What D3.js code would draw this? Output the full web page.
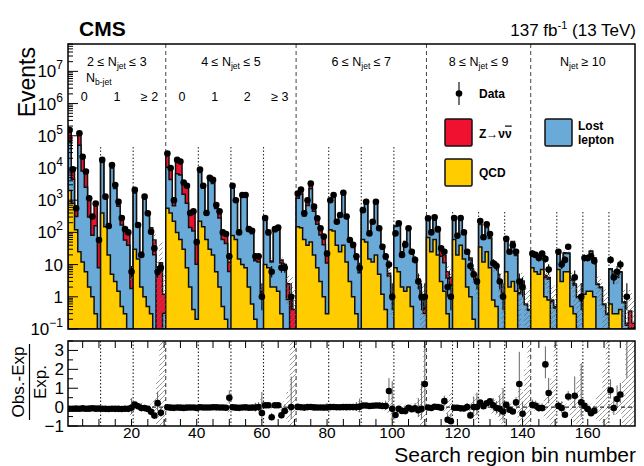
<!DOCTYPE html>
<html><head><meta charset="utf-8">
<script src="https://cdn.jsdelivr.net/npm/d3@7"></script>
<style>body{margin:0;background:#fff}svg{font-family:"Liberation Sans",Arial,sans-serif}</style>
</head><body><svg id="c" width="644" height="466"></svg>
<script>
// ---------------- DATA ----------------
const qcd = [
2000,800,120,25,12,6,2,1,0.3,0.05,
400,150,20,5,3,1.5,0.5,0.3,0.1,0.02,
30,15,2,1,0.5,0.3,0.05,0.01,0.01,0.01,
560,400,220,100,60,30,8,2,0.4,0.2,
220,150,60,30,20,6,2,0.5,0.2,0.05,
80,60,15,10,8,2,0.6,0.2,0.1,0.02,
10,8,2,2,1.5,0.3,0.1,0.02,0.01,0.005,
150,140,60,40,50,20,8,3,1,0.3,
120,110,40,25,40,12,3,1,0.3,0.1,
60,50,15,12,20,5,1.2,0.4,0.1,0.02,
8,6,2,1.5,2,0.5,0.1,0.03,0.01,0.005,
70,25,60,20,3,1.5,0.3,0.1,
60,20,40,15,2,1,0.2,0.1,
35,12,25,8,0.8,0.5,0.1,0.05,
6,2,3,1.5,0.1,0.1,0.02,0.01,
8,6,5,7,1,0.8,0.1,0.05,
7,3,6,6,0.5,0.3,0.1,0.05,
1.2,1.5,1.5,1,0.1,0.1,0.02,0.01,
0.6,0.3,0.3,0.4,0.05,0.01,0.01,0.01];
const lostLepton = [
63000,3700,190,51000,8000,2500,300,80,160,8,
15000,1000,120,10000,2300,650,170,58,40,1.8,
1650,130,16,1150,350,100,20,0.05,0.08,0.3,
10000,4000,450,6500,6000,1500,800,140,110,10,
7000,2200,300,4000,3300,550,280,60,45,6,
2550,880,80,1300,1280,110,90,13,12,0.9,
235,78,10,105,118,11,7,0.8,0.05,0.05,
1000,1400,260,650,2200,430,170,80,40,11,
800,1200,160,300,1500,270,48,33,14,5.5,
370,730,68,180,760,112,30,14.5,4.3,0.8,
145,195,21,47,130,25,13,3,0.8,0.3,
170,65,180,85,15,10,3.5,2.2,
220,58,245,88,20,13,4,2.5,
140,54,118,57,8.5,8.5,3,1.15,
48,26,47,17.5,1.15,2.8,0.55,0.37,
10,11,10,14,3,2.8,0.6,0.4,
15,7,16,16,2.8,2,0.85,0.7,
13,15.5,24,14.5,2.3,1.8,0.55,0.27,
6.5,3.7,3.7,5.3,0.6,0.12,0.05,0.1];
const zinv = [
100000,5500,300,80000,16000,6000,950,250,700,55,
4100,270,35,3500,950,330,140,80,70,4.4,
170,18,3,210,80,40,38,4.9,11.4,0.9,
17900,5900,370,11600,10200,2170,2090,268,350,42,
1780,500,50,1070,980,164,178,41.5,46.8,6,
220,90,9,170,182,18,24.4,5.3,5.9,0.53,
10,5,1,8,8.5,2.7,2.9,1.7,0.94,0.35,
450,610,80,310,1050,190,102,55,35,11.2,
80,130,15,25,160,28,7,7,3.7,2.2,
20,40,5,8,40,8,2.8,2.1,1.0,0.28,
7,9,2,3.5,8,2.5,1.9,0.57,0.29,0.145,
40,15,50,20,15,7.5,2.2,1.7,
10,4,15,5,3,2,0.8,0.4,
5,2,5,3,0.7,0.5,0.2,0.1,
2,1,2,1,0.1,0.2,0.03,0.02,
1.5,1.7,1.8,2,0.6,0.4,0.1,0.05,
1.5,0.5,1.5,1,0.2,0.2,0.05,0.05,
0.8,0.8,1,0.7,0.1,0.1,0.03,0.02,
0.3,0.2,0.2,0.3,0.05,0.02,0.3,0.04];
const observed = [
151000,9100,560,120000,22400,7800,1150,310,790,58,
17800,1290,158,12300,2950,890,280,126,100,6,
2090,170,20,1290,390,105,32,6,8,0,
28200,10000,1000,17800,15800,3550,2820,400,450,50,
8900,2800,400,5000,4270,710,450,100,89,18,
2820,1000,100,1450,1450,126,112,18,18,1,
280,100,6,126,141,8,8,0,1,0,
1620,2140,390,1000,3310,630,275,135,74,22,
1000,1450,214,347,1700,309,58,41,18,8,
490,890,93,214,890,135,36,18,10,1,
93,190,20,41,135,25,14,3,1,1,
275,100,295,126,32,25,2,1,
280,79,280,100,25,9,5,3,
224,71,178,89,11,9,3,1,
63,25,40,25,3,2,0,0,
22,20,16,22,15,7,0,0,
25,10,14,36,0,4,0,1,
16,16,18,13,0,0,0,0,
14,4,6,10,0,1,0,0];
const expRelUnc = [
0.04,0.05,0.08,0.04,0.05,0.06,0.08,0.1,0.1,0.15,
0.05,0.06,0.1,0.05,0.06,0.08,0.1,0.12,0.15,0.5,
0.08,0.1,0.25,0.08,0.15,0.2,0.5,1.5,3.5,4,
0.04,0.05,0.08,0.05,0.05,0.06,0.07,0.1,0.1,0.15,
0.05,0.06,0.1,0.05,0.06,0.08,0.1,0.15,0.15,0.3,
0.06,0.07,0.12,0.07,0.07,0.1,0.12,0.2,0.2,0.5,
0.1,0.12,0.25,0.12,0.12,0.25,0.3,0.8,3.5,4,
0.05,0.05,0.08,0.06,0.05,0.07,0.08,0.1,0.12,0.2,
0.06,0.05,0.1,0.08,0.06,0.08,0.12,0.15,0.2,0.3,
0.07,0.06,0.12,0.1,0.06,0.1,0.15,0.2,0.35,0.8,
0.1,0.08,0.2,0.15,0.1,0.2,0.25,0.5,1.2,4,
0.08,0.1,0.08,0.1,0.2,0.25,0.5,0.8,
0.08,0.12,0.08,0.1,0.2,0.3,0.5,0.7,
0.1,0.15,0.1,0.15,0.4,0.4,0.7,1.0,
0.2,0.3,0.2,0.3,1.0,0.8,2,3.5,
0.2,0.2,0.25,0.2,0.6,0.7,1.5,3.5,
0.2,0.3,0.2,0.2,0.6,0.8,1.5,2.5,
0.25,0.25,0.2,0.25,0.7,0.8,2,3.5,
0.3,0.4,0.4,0.35,1.5,3.5,3.5,4];

const xTickValues = [20,40,60,80,100,120,140,160];
const yDecades = [-1,0,1,2,3,4,5,6,7];
const ratioTicks = [-1,0,1,2,3];
const njetGroups = [
  {pre:"2 ≤ N", post:" ≤ 3", first:1, last:30},
  {pre:"4 ≤ N", post:" ≤ 5", first:31, last:70},
  {pre:"6 ≤ N", post:" ≤ 7", first:71, last:110},
  {pre:"8 ≤ N", post:" ≤ 9", first:111, last:142},
  {pre:"N", post:" ≥ 10", first:143, last:174}];
const nbGroups = [
  {label:"0",first:1,last:10},{label:"1",first:11,last:20},{label:"≥ 2",first:21,last:30},
  {label:"0",first:31,last:40},{label:"1",first:41,last:50},{label:"2",first:51,last:60},{label:"≥ 3",first:61,last:70}];
const njetEdges = [30.5,70.5,110.5,142.5];
const nbEdges = [10.5,20.5,40.5,50.5,60.5,80.5,90.5,100.5,118.5,126.5,134.5,150.5,158.5,166.5];

// ---------------- SETUP ----------------
const svg = d3.select("#c");
const nBins = qcd.length;
const L = 68, R = 635, T1 = 44, B1 = 329, T2 = 341, B2 = 426;
const yMin = 0.1, yMax = 7.08e7;
const x = d3.scaleLinear().domain([0.5, nBins + 0.5]).range([L, R]);
const y = d3.scaleLog().domain([yMin, yMax]).range([B1, T1]).clamp(true);
const yr = d3.scaleLinear().domain([-1, 3.5]).range([B2, T2]);

const COL = {qcd:"#ffcc00", ll:"#6aaad8", z:"#f0102f"};

const defs = svg.append("defs");
defs.append("clipPath").attr("id","cMain").append("rect").attr("x",L).attr("y",T1).attr("width",R-L).attr("height",B1-T1);
defs.append("clipPath").attr("id","cRat").append("rect").attr("x",L).attr("y",T2).attr("width",R-L).attr("height",B2-T2);
function hatch(id, col, w){
  const p = defs.append("pattern").attr("id",id).attr("patternUnits","userSpaceOnUse").attr("width",5).attr("height",5);
  p.append("path").attr("d","M0,5 L5,0 M-1,1 L1,-1 M4,6 L6,4").attr("stroke",col).attr("stroke-width",w);
}
hatch("hR","#8a8a8a",0.9);
hatch("hM","#666",0.8);

const cum1 = qcd.slice();
const cum2 = qcd.map((q,i)=>q+lostLepton[i]);
const total = cum2.map((v,i)=>v+zinv[i]);

// ---------------- MAIN PANEL ----------------
const gM = svg.append("g");
njetEdges.forEach(e=>{
  gM.append("line").attr("x1",x(e)).attr("x2",x(e)).attr("y1",T1).attr("y2",B1)
    .attr("stroke","#444").attr("stroke-width",1).attr("stroke-dasharray","4,3");
});
nbEdges.forEach(e=>{
  gM.append("line").attr("x1",x(e)).attr("x2",x(e)).attr("y1",e<110.5?147:212).attr("y2",B1)
    .attr("stroke","#333").attr("stroke-width",1.1).attr("stroke-dasharray","1.5,2");
});

const gH = svg.append("g").attr("clip-path","url(#cMain)");
function stepPts(vals){
  const p = [[0.5, yMin]];
  vals.forEach((v,i)=>p.push([i+0.5, v]));
  p.push([nBins+0.5, vals[nBins-1]]);
  p.push([nBins+0.5, yMin]);
  return p;
}
const line = d3.line().x(d=>x(d[0])).y(d=>y(Math.max(d[1],yMin*0.5))).curve(d3.curveStepAfter);
[[total,COL.z],[cum2,COL.ll],[cum1,COL.qcd]].forEach(([vals,col])=>{
  gH.append("path").attr("d",line(stepPts(vals))+"Z").attr("fill",col)
    .attr("stroke","#111").attr("stroke-width",1.5).attr("stroke-linejoin","miter");
});
gH.selectAll("rect.hu").data(total).join("rect")
  .attr("x",(d,i)=>x(i+0.5)).attr("width",(d,i)=>x(i+1.5)-x(i+0.5))
  .attr("y",(d,i)=>y(d*(1+expRelUnc[i])))
  .attr("height",(d,i)=>Math.max(0, y(Math.max(yMin*0.5,d*(1-expRelUnc[i])))-y(d*(1+expRelUnc[i]))))
  .attr("fill","url(#hM)").attr("opacity",(d,i)=>expRelUnc[i]>0.3?0.9:0.45);

const gD = svg.append("g").attr("clip-path","url(#cMain)");
observed.forEach((d,i)=>{
  if(d<=0) return;
  const s = Math.sqrt(d+0.25), up = d+0.5+s, dn = d+0.5-s;
  const cx = x(i+1);
  gD.append("line").attr("x1",cx).attr("x2",cx).attr("y1",y(Math.max(dn,yMin*0.5))).attr("y2",y(up))
    .attr("stroke","#000").attr("stroke-width",1.1);
  gD.append("circle").attr("cx",cx).attr("cy",y(d)).attr("r",3.3).attr("fill","#000");
});

svg.append("rect").attr("x",L).attr("y",T1).attr("width",R-L).attr("height",B1-T1)
  .attr("fill","none").attr("stroke","#000").attr("stroke-width",1.5);
const gY = svg.append("g");
yDecades.forEach(dec=>{
  for(let m=1;m<=9;m++){
    const v = m*Math.pow(10,dec);
    if(v<yMin*0.999||v>yMax) continue;
    const yy = y(v);
    gY.append("line").attr("x1",L).attr("x2",L+(m===1?10:5)).attr("y1",yy).attr("y2",yy)
      .attr("stroke","#000").attr("stroke-width",1);
  }
  const t = gY.append("text").attr("x",63).attr("y",y(Math.pow(10,dec))+6).attr("text-anchor","end")
    .attr("font-size",17);
  if(dec===0){t.text("1");}
  else if(dec===1){t.text("10");}
  else { t.append("tspan").text("10"); t.append("tspan").attr("dy",-8).attr("font-size",12).text(dec<0?"−1":String(dec)); }
});
svg.append("text").attr("transform","translate(35,47) rotate(-90)").attr("text-anchor","end")
  .attr("font-size",23).text("Events");

svg.append("text").attr("x",79).attr("y",36).attr("font-size",21).attr("font-weight","bold").text("CMS");
const lum = svg.append("text").attr("x",636).attr("y",36).attr("font-size",17).attr("text-anchor","end");
lum.append("tspan").text("137 fb");
lum.append("tspan").attr("dy",-7).attr("font-size",11).text("-1");
lum.append("tspan").attr("dy",7).text(" (13 TeV)");

njetGroups.forEach(g=>{
  const t = svg.append("text").attr("x",x((g.first+g.last)/2)).attr("y",66).attr("text-anchor","middle").attr("font-size",12.5);
  t.append("tspan").text(g.pre);
  t.append("tspan").attr("dy",3).attr("font-size",8.5).text("jet");
  t.append("tspan").attr("dy",-3).text(g.post);
});
const nbt = svg.append("text").attr("x",86).attr("y",82).attr("font-size",12.5);
nbt.append("tspan").text("N");
nbt.append("tspan").attr("dy",3).attr("font-size",8.5).text("b-jet");
nbGroups.forEach(g=>{
  svg.append("text").attr("x",x((g.first+g.last)/2)).attr("y",101).attr("text-anchor","middle")
    .attr("font-size",12.5).text(g.label);
});

const gL = svg.append("g").attr("font-size",12).attr("font-weight","bold");
gL.append("line").attr("x1",459).attr("x2",459).attr("y1",82).attr("y2",105).attr("stroke","#000").attr("stroke-width",1.1);
gL.append("circle").attr("cx",459).attr("cy",93.5).attr("r",3.3).attr("fill","#000");
gL.append("text").attr("x",479).attr("y",98).text("Data");
[[COL.z,445,119],[COL.qcd,445,159],[COL.ll,545,119]].forEach(([c,bx,by])=>{
  gL.append("rect").attr("x",bx).attr("y",by).attr("width",27).attr("height",27).attr("rx",1.5)
    .attr("fill",c).attr("stroke","#111").attr("stroke-width",1.5);
});
const zt = gL.append("text").attr("x",479).attr("y",137.5);
zt.append("tspan").text("Z→ν");
zt.append("tspan").attr("style","text-decoration:overline").text("ν");
gL.append("text").attr("x",479).attr("y",177).text("QCD");
gL.append("text").attr("x",578).attr("y",130).text("Lost");
gL.append("text").attr("x",578).attr("y",144).text("lepton");

// ---------------- RATIO PANEL ----------------
const gR = svg.append("g").attr("clip-path","url(#cRat)");
gR.selectAll("rect.hr").data(expRelUnc).join("rect")
  .attr("x",(u,i)=>x(i+0.5)).attr("width",(u,i)=>x(i+1.5)-x(i+0.5))
  .attr("y",u=>yr(Math.min(3.6,u))).attr("height",u=>yr(Math.max(-1.1,-u))-yr(Math.min(3.6,u)))
  .attr("fill","url(#hR)").attr("opacity",u=>u>0.25?1:0.5);
njetEdges.forEach(e=>{
  gR.append("line").attr("x1",x(e)).attr("x2",x(e)).attr("y1",T2).attr("y2",B2)
    .attr("stroke","#333").attr("stroke-width",1).attr("stroke-dasharray","4,3");
});
nbEdges.forEach(e=>{
  gR.append("line").attr("x1",x(e)).attr("x2",x(e)).attr("y1",T2).attr("y2",B2)
    .attr("stroke","#222").attr("stroke-width",1.1).attr("stroke-dasharray","1.5,2");
});
gR.append("line").attr("x1",L).attr("x2",R).attr("y1",yr(0)).attr("y2",yr(0))
  .attr("stroke","#000").attr("stroke-width",1).attr("stroke-dasharray","4,3");
observed.forEach((d,i)=>{
  if(d<=0) return;
  const t = total[i], r = d/t-1;
  const s = Math.sqrt(d+0.25), up = (0.5+s)/t, dn = (s-0.5)/t;
  const cx = x(i+1);
  gR.append("line").attr("x1",cx).attr("x2",cx).attr("y1",yr(r-dn)).attr("y2",yr(r+up))
    .attr("stroke","#666").attr("stroke-width",1);
  if(r<=3.5) gR.append("circle").attr("cx",cx).attr("cy",yr(r)).attr("r",3.3).attr("fill","#000");
});
svg.append("rect").attr("x",L).attr("y",T2).attr("width",R-L).attr("height",B2-T2)
  .attr("fill","none").attr("stroke","#000").attr("stroke-width",1.5);
const gA = svg.append("g");
d3.range(5,nBins+1,5).forEach(v=>{
  [[T2,T2+7],[B2,B2-7]].forEach(([a,b])=>gA.append("line").attr("x1",x(v)).attr("x2",x(v)).attr("y1",a).attr("y2",b).attr("stroke","#000").attr("stroke-width",1));
});
xTickValues.forEach(v=>{
  gA.append("text").attr("x",x(v)).attr("y",438).attr("text-anchor","middle").attr("font-size",15.5).text(v);
});
ratioTicks.forEach(v=>{
  gA.append("line").attr("x1",L).attr("x2",L+10).attr("y1",yr(v)).attr("y2",yr(v)).attr("stroke","#000");
  gA.append("line").attr("x1",L).attr("x2",L+5).attr("y1",yr(v+0.5)).attr("y2",yr(v+0.5)).attr("stroke","#000");
  gA.append("text").attr("x",64).attr("y",yr(v)+6).attr("text-anchor","end").attr("font-size",17).text(v<0?"−1":String(v));
});
svg.append("text").attr("x",636).attr("y",461.5).attr("text-anchor","end").attr("font-size",21).text("Search region bin number");
svg.append("text").attr("transform","translate(24,382) rotate(-90)").attr("text-anchor","middle").attr("font-size",17).text("Obs.-Exp");
svg.append("line").attr("x1",29.5).attr("x2",29.5).attr("y1",344).attr("y2",420).attr("stroke","#000").attr("stroke-width",1.2);
svg.append("text").attr("transform","translate(46,382) rotate(-90)").attr("text-anchor","middle").attr("font-size",17).text("Exp.");
</script></body></html>
